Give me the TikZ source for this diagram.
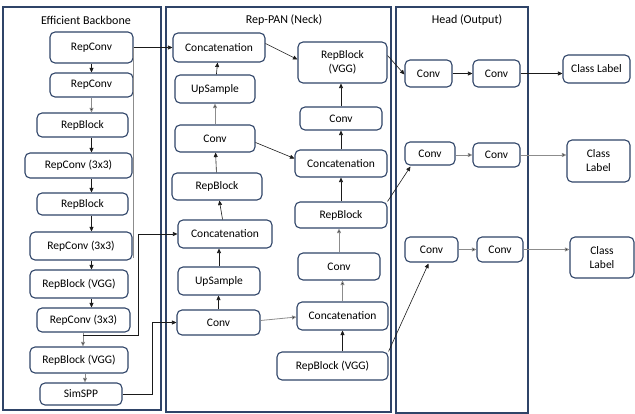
\documentclass[tikz,border=0pt]{standalone}
\usepackage{fontspec}
\setmainfont{Carlito}
\usetikzlibrary{arrows.meta,calc}
\definecolor{navy}{HTML}{2F4468}
\definecolor{ln}{HTML}{1A1A1A}
\definecolor{gl}{HTML}{8C8C8C}
\tikzset{
  panel/.style={draw=navy,line width=1.2pt},
  box/.style={draw=navy,line width=1.1pt,rounded corners=5pt,fill=white,inner sep=0pt,align=center,font=\fontsize{11.5}{14}\selectfont},
  ttl/.style={font=\fontsize{12}{14}\selectfont,inner sep=0pt},
  arr/.style={draw=ln,line width=0.6pt,-{Triangle[length=4.5pt,width=4pt]}},
  garr/.style={draw=gl,line width=0.8pt,-{Triangle[length=4.5pt,width=4pt,fill=ln]}},
  gline/.style={draw=gl,line width=0.8pt},
}
\newcommand{\bx}[6]{\node[box,minimum width=#3,minimum height=#4] (#1) at (#2) {#5};}
\begin{document}
\begin{tikzpicture}[x=1pt,y=-1pt]
\useasboundingbox (0,0) rectangle (635,414);
% panels
\draw[panel] (3,7) rectangle (161,410);
\draw[panel] (166,7) rectangle (391,412);
\draw[panel] (396,7) rectangle (528,413);
\node[ttl] (t1) at (86,20) {Efficient Backbone};
\node[ttl] (t2) at (284,20) {Rep-PAN (Neck)};
\node[ttl] (t3) at (467,20) {Head (Output)};
% backbone
\bx{b1}{91.5,47.5}{83}{31}{RepConv}{}
\bx{b2}{91.5,85}{83}{24}{RepConv}{}
\bx{b3}{82.5,125}{91}{24}{RepBlock}{}
\bx{b4}{78.5,165.5}{107}{25}{RepConv (3x3)}{}
\bx{b5}{82.5,204}{91}{22}{RepBlock}{}
\bx{b6}{81,246}{102}{28}{RepConv (3x3)}{}
\bx{b7}{79,284}{98}{28}{RepBlock (VGG)}{}
\bx{b8}{83.5,320}{93}{24}{RepConv (3x3)}{}
\bx{b9}{79,360}{98}{26}{RepBlock (VGG)}{}
\bx{sp}{81,394}{82}{22}{SimSPP}{}
% neck left
\bx{nc1}{219,47.5}{92}{29}{Concatenation}{}
\bx{nu1}{215,89}{80}{28}{UpSample}{}
\bx{nv1}{215,138.5}{80}{27}{Conv}{}
\bx{nr1}{217,186.5}{90}{27}{RepBlock}{}
\bx{nc2}{225,234}{94}{28}{Concatenation}{}
\bx{nu2}{219,281}{82}{28}{UpSample}{}
\bx{nv2}{218.5,322.5}{83}{25}{Conv}{}
% neck right
\bx{ng1}{342.5,62.5}{89}{41}{RepBlock\\(VGG)}{}
\bx{nv3}{341,118.5}{82}{23}{Conv}{}
\bx{nc3}{341,163.5}{92}{27}{Concatenation}{}
\bx{nr2}{341,215}{92}{26}{RepBlock}{}
\bx{nv4}{339,266.5}{82}{27}{Conv}{}
\bx{nc4}{342.5,316}{91}{28}{Concatenation}{}
\bx{ng2}{332.5,366}{111}{28}{RepBlock (VGG)}{}
% head
\bx{h1a}{428.5,73.5}{47}{27}{Conv}{}
\bx{h1b}{496.5,73.5}{47}{27}{Conv}{}
\bx{cl1}{596.5,69}{67}{28}{Class Label}{}
\bx{h2a}{430,153.5}{50}{23}{Conv}{}
\bx{h2b}{496.5,155}{47}{24}{Conv}{}
\bx{cl2}{598.5,161}{63}{42}{Class\\Label}{}
\bx{h3a}{431.5,249.5}{53}{25}{Conv}{}
\bx{h3b}{500,249.5}{46}{25}{Conv}{}
\bx{cl3}{602,257.5}{64}{41}{Class\\Label}{}
% backbone arrows
\coordinate (ax) at (91.5,0);
\coordinate (ax2) at (83,0);
\coordinate (ax3) at (85,0);
\draw[arr] (b1.south -| ax) -- (b2.north -| ax);
\draw[garr] (b2.south -| ax) -- (b3.north -| ax);
\draw[arr] (b3.south -| ax) -- (b4.north -| ax);
\draw[arr] (b4.south -| ax) -- (b5.north -| ax);
\draw[arr] (b5.south -| ax) -- (b6.north -| ax);
\draw[arr] (b6.south -| ax) -- (b7.north -| ax);
\draw[arr] (b7.south -| ax) -- (b8.north -| ax);
\draw[garr] (b8.south -| ax2) -- (b9.north -| ax2);
\draw[garr] (b9.south -| ax3) -- (sp.north -| ax3);
% backbone to neck
\coordinate (v1) at (133.5,258);
\draw[gline] (b1.east) -- (v1);
\draw[arr] (b1.east) -- (nc1.west);
\coordinate (j1) at (83,335);
\coordinate (k1) at (138,335);
\draw[arr] (j1) -- (k1) |- (nc2.west);
\coordinate (k2) at (152,394);
\draw[arr] (sp.east) -- (k2) |- (nv2.west);
% neck left column
\draw[arr] (nu1) -- (nc1);
\draw[garr] (nv1) -- (nu1);
\draw[arr] (nr1) -- (nv1);
\draw[arr] (nc2) -- (nr1);
\draw[arr] (nu2) -- (nu2 |- nc2.south);
\draw[arr] (nv2) -- (nv2 |- nu2.south);
% neck right column
\draw[arr] (ng2.north -| nc4) -- (nc4.south);
\draw[garr] (nc4) -- (nc4 |- nv4.south);
\draw[garr] (nv4.north) -- (nv4.north |- nr2.south);
\draw[arr] (nr2) -- (nr2 |- nc3.south);
\draw[arr] (nc3) -- (nc3 |- nv3.south);
\draw[arr] (nv3) -- (nv3 |- ng1.south);
% neck cross
\draw[arr] ($(nc1.east)+(0,-4)$) -- ($(ng1.west)+(0,-3)$);
\draw[arr] ($(nv1.east)+(0,4)$) -- ($(nc3.west)+(0,-5)$);
\draw[garr] ($(nv2.east)+(0,-2)$) -- ($(nc4.west)+(0,1)$);
% neck to head
\draw[arr] ($(ng1.east)+(0,-7)$) -- ($(h1a.west)+(0,1)$);
\draw[arr] (nr2.north east) -- ($(h2a.south west)+(6,1)$);
\draw[arr] (ng2.north east) -- ($(h3a.south)+(-3,1)$);
% head
\draw[arr] (h1a) -- (h1b);
\draw[arr] (h1b.east) -- (h1b.east -| cl1.west);
\draw[garr] (h2a.east |- h2b) -- (h2b);
\draw[garr] (h2b.east) -- (h2b.east -| cl2.west);
\draw[garr] (h3a) -- (h3b);
\draw[garr] (h3b.east) -- (h3b.east -| cl3.west);
\end{tikzpicture}
\end{document}
